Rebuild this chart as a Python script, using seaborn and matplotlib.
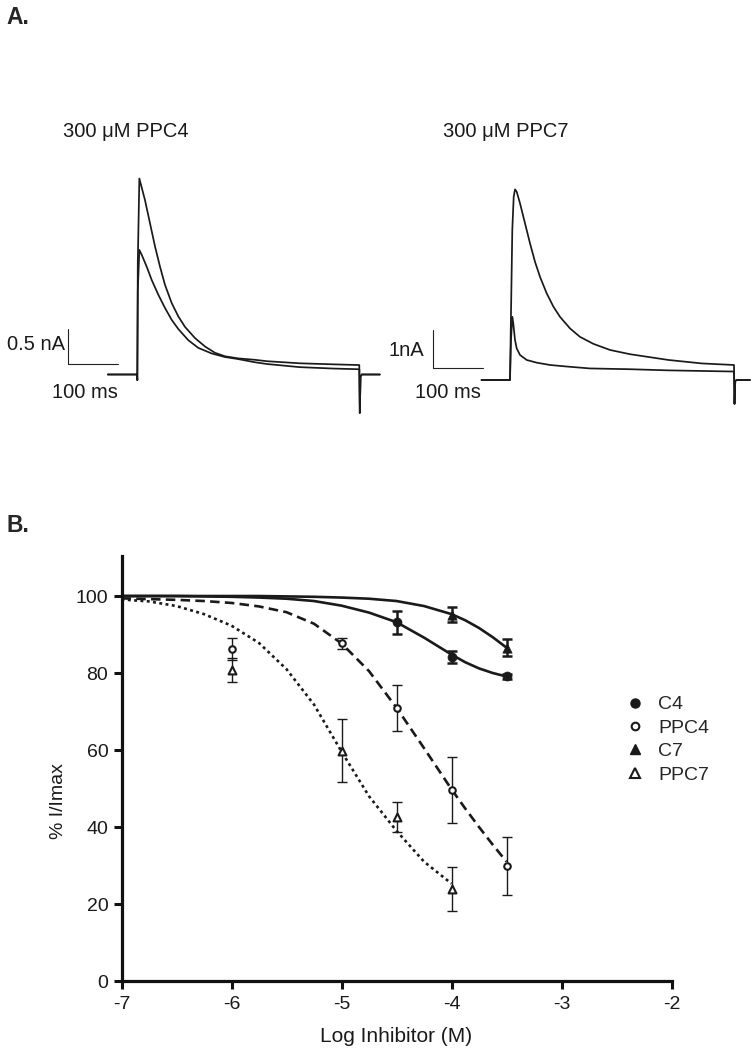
import numpy as np
import matplotlib.pyplot as plt
from matplotlib.lines import Line2D
import seaborn as sns

sns.set_theme(style='white')
plt.rcParams['font.family'] = ['Liberation Sans', 'DejaVu Sans']
plt.rcParams['axes.unicode_minus'] = False

W, H = 754, 1050

# ---- panel A: whole-cell current traces (time in ms, current in nA)
ppc4_t_a = [-59, -0.5, 0, 1, 4.1, 15.4, 25.4, 35.4, 45.4, 55.4, 68.8, 82, 95.4, 115.4,
            135.4, 155.4, 175.4, 202, 235, 259, 325, 392, 444, 445, 446.5, 449, 485]
ppc4_i_a = [0, 0, -0.08, 1.6, 2.80, 2.49, 2.16, 1.83, 1.54, 1.28, 1.02, 0.83, 0.68, 0.52,
            0.40, 0.31, 0.26, 0.23, 0.21, 0.19, 0.16, 0.145, 0.135, -0.55, -0.03, 0, 0]
ppc4_t_b = [-59, -0.5, 0, 1, 4.1, 8.8, 18.8, 28.8, 42, 55.4, 68.8, 82, 102, 122, 149,
            175, 202, 235, 259, 325, 392, 444, 445, 446.5, 449, 485]
ppc4_i_b = [0, 0, -0.08, 1.2, 1.78, 1.71, 1.54, 1.35, 1.14, 0.95, 0.78, 0.65, 0.49, 0.38,
            0.30, 0.25, 0.22, 0.175, 0.15, 0.105, 0.085, 0.075, -0.55, -0.03, 0, 0]

ppc7_t_a = [-57, -0.5, 0, 2, 4.6, 7.4, 10, 13.4, 20, 30, 40, 50, 60, 73.4, 86.6, 100,
            120, 140, 166.6, 200, 240, 317, 384, 448, 449, 450.5, 453, 480]
ppc7_i_a = [0, 0, 0, 1.73, 3.90, 4.76, 4.95, 4.89, 4.59, 4.07, 3.55, 3.07, 2.68, 2.25,
            1.91, 1.64, 1.34, 1.12, 0.94, 0.78, 0.67, 0.52, 0.43, 0.39, -0.62, -0.03, 0, 0]
ppc7_t_b = [-57, -0.5, 0, 2, 4.6, 6.6, 10, 13.4, 20, 33.4, 53.4, 80, 113.4, 160, 240,
            317, 448, 449, 450.5, 453, 480]
ppc7_i_b = [0, 0, 0, 1.04, 1.64, 1.47, 1.04, 0.82, 0.65, 0.52, 0.45, 0.39, 0.35, 0.30,
            0.28, 0.25, 0.22, -0.62, -0.03, 0, 0]

scale_nA = [0.5, 1.0]
scale_ms = 100

# ---- panel B: concentration-response (log M, % I/Imax, SEM)
c4_x = [-4.5, -4, -3.5]
c4_y = [93.2, 84.1, 79.1]
c4_err = [3.0, 1.6, 0.6]
ppc4_x = [-6, -5, -4.5, -4, -3.5]
ppc4_y = [86.2, 87.7, 71.0, 49.6, 29.8]
ppc4_err = [2.8, 1.5, 6.0, 8.6, 7.5]
c7_x = [-4, -3.5]
c7_y = [95.2, 86.6]
c7_err = [2.0, 2.2]
ppc7_x = [-6, -5, -4.5, -4]
ppc7_y = [80.8, 59.8, 42.6, 23.9]
ppc7_err = [3.2, 8.2, 3.9, 5.7]

fit_x = [-7, -6.75, -6.5, -6.25, -6, -5.75, -5.5, -5.25, -5, -4.75, -4.5, -4.25, -4,
         -3.875, -3.75, -3.625, -3.5]
c4_fit = [100, 100, 100, 99.9, 99.8, 99.6, 99.3, 98.7, 97.5, 95.7, 93.2, 89.2, 84.8,
          82.8, 81.2, 80.0, 79.1]
c7_fit = [100, 100, 100, 100, 100, 100, 99.9, 99.8, 99.6, 99.3, 98.7, 97.4, 95.3,
          93.7, 91.7, 89.3, 86.6]
ppc4_fit = [99.4, 99.2, 99.0, 98.7, 98.2, 97.3, 95.8, 92.8, 87.7, 80.5, 71.0, 60.5, 49.8,
            44.8, 40.0, 35.4, 31.0]
ppc7_fit_x = fit_x[:13]
ppc7_fit = [99.1, 98.6, 97.4, 95.3, 92.3, 87.8, 81.0, 71.8, 59.6, 48.0, 39.0, 31.0, 25.3]


def fx(px):
    return px / W


def fy(py):
    return 1 - py / H


fig = plt.figure(figsize=(W / 100, H / 100), dpi=100)

# left traces (PPC4)
axl = fig.add_axes([fx(0), fy(420), fx(390), 260 / H])
axl.set_xlim(-274.6, 505.4)
axl.set_ylim(-0.65, 3.064)
for t, i in [(ppc4_t_a, ppc4_i_a), (ppc4_t_b, ppc4_i_b)]:
    sns.lineplot(x=t, y=i, ax=axl, color='#1a1a1a', lw=1.25, estimator=None, sort=False)
axl.plot([-139.2, -139.2, -139.2 + scale_ms], [0.146 + scale_nA[0], 0.146, 0.146],
         color='#222222', lw=0.8)
axl.axis('off')

# right traces (PPC7)
axr = fig.add_axes([fx(390), fy(420), (754 - 390) / W, 260 / H])
axr.set_xlim(-240, 488)
axr.set_ylim(-1.039, 5.714)
for t, i in [(ppc7_t_a, ppc7_i_a), (ppc7_t_b, ppc7_i_b)]:
    sns.lineplot(x=t, y=i, ax=axr, color='#1a1a1a', lw=1.25, estimator=None, sort=False)
axr.plot([-154.2, -154.2, -154.2 + scale_ms], [0.30 + scale_nA[1], 0.30, 0.30],
         color='#222222', lw=0.8)
axr.axis('off')

fig.text(fx(6), fy(24), 'A.', fontsize=16.5, fontweight='bold', va='baseline')
fig.text(fx(63), fy(137), '300 \u03bcM PPC4', fontsize=14.5, va='baseline', color='#1a1a1a')
fig.text(fx(443), fy(137), '300 \u03bcM PPC7', fontsize=14.5, va='baseline', color='#1a1a1a')
fig.text(fx(65), fy(350), '0.5 nA', fontsize=14.5, ha='right', va='baseline', color='#1a1a1a')
fig.text(fx(52), fy(397.7), '100 ms', fontsize=14.5, va='baseline', color='#1a1a1a')
fig.text(fx(424), fy(355.5), '1nA', fontsize=14.5, ha='right', va='baseline', color='#1a1a1a')
fig.text(fx(415), fy(397.7), '100 ms', fontsize=14.5, va='baseline', color='#1a1a1a')

# ---- panel B
fig.text(fx(6.7), fy(531.7), 'B.', fontsize=16.5, fontweight='bold', va='baseline')
ax = fig.add_axes([fx(121.5), fy(981), 550 / W, 425.4 / H])

sns.lineplot(x=fit_x, y=c4_fit, ax=ax, color='k', lw=1.9, estimator=None, sort=False)
sns.lineplot(x=fit_x, y=c7_fit, ax=ax, color='k', lw=1.9, estimator=None, sort=False)
sns.lineplot(x=fit_x, y=ppc4_fit, ax=ax, color='k', lw=1.9, estimator=None, sort=False,
             linestyle=(0, (3.6, 2.0)))
sns.lineplot(x=ppc7_fit_x, y=ppc7_fit, ax=ax, color='k', lw=1.9, estimator=None, sort=False,
             linestyle=(0, (1.1, 1.3)))

series = [
    (c4_x, c4_y, c4_err, 'o', 'k', 42, 1.8),
    (ppc4_x, ppc4_y, ppc4_err, 'o', 'white', 22, 1.0),
    (c7_x, c7_y, c7_err, '^', 'k', 45, 1.8),
    (ppc7_x, ppc7_y, ppc7_err, '^', 'white', 32, 1.0),
]
for x, y, e, m, fc, s, elw in series:
    ax.errorbar(x, y, yerr=e, fmt='none', ecolor='k', elinewidth=elw, capsize=3.6,
                capthick=elw, zorder=3)
    sns.scatterplot(x=x, y=y, ax=ax, marker=m, color=fc, edgecolor='k',
                    linewidth=1.5 if fc == 'white' else 0.5, s=s, zorder=4, legend=False)

ax.set_xlim(-7, -2)
ax.set_ylim(0, 110.5)
ax.set_xticks([-7, -6, -5, -4, -3, -2])
ax.set_yticks([0, 20, 40, 60, 80, 100])
sns.despine(ax=ax)
for sp in ['left', 'bottom']:
    ax.spines[sp].set_linewidth(2.3)
    ax.spines[sp].set_color('#111111')
ax.tick_params(axis='both', direction='out', length=5.8, width=2.2, color='#111111',
               labelsize=14, labelcolor='#1a1a1a', bottom=True, left=True)
ax.tick_params(axis='x', pad=5.0)
ax.tick_params(axis='y', pad=3.7)
ax.set_xlabel('Log Inhibitor (M)', fontsize=15, color='#1a1a1a')
ax.set_ylabel('% I/Imax', fontsize=14, color='#1a1a1a')
ax.xaxis.set_label_coords(0.5, -0.108)
ax.yaxis.set_label_coords(-0.0996, 0.423)

handles = [
    Line2D([], [], ls='none', marker='o', mfc='k', mec='k', ms=6.5),
    Line2D([], [], ls='none', marker='o', mfc='white', mec='k', mew=1.5, ms=5.5),
    Line2D([], [], ls='none', marker='^', mfc='k', mec='k', ms=6.5),
    Line2D([], [], ls='none', marker='^', mfc='white', mec='k', mew=1.5, ms=6.5),
]
ax.legend(handles, ['C4', 'PPC4', 'C7', 'PPC7'], loc='upper left',
          bbox_to_anchor=(fx(625.3), fy(695.7)), bbox_transform=fig.transFigure,
          frameon=False, fontsize=14, handlelength=1.0, handletextpad=0.7,
          labelspacing=0.3, borderpad=0, borderaxespad=0)

fig.savefig('out.png', dpi=100)
